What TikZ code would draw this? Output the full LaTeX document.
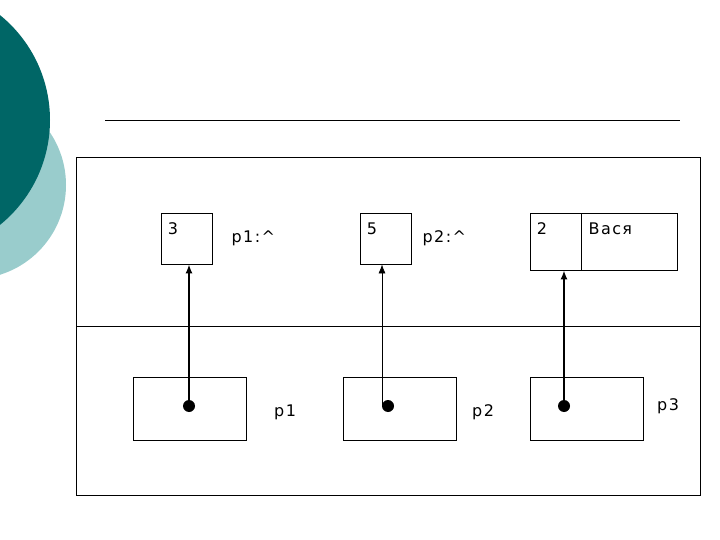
\documentclass[tikz,border=0pt]{standalone}
\usepackage{fontspec}
\setmainfont{DejaVu Sans}
\newfontfamily\lblfont[LetterSpace=9]{DejaVu Sans}
\usepackage{xcolor}
\usetikzlibrary{positioning,arrows.meta}
\definecolor{tealDark}{RGB}{0,102,102}
\definecolor{tealLight}{RGB}{153,204,204}

\begin{document}
\begin{tikzpicture}[
    x=1pt, y=-1pt,
    cell/.style={
      draw,
      minimum width=51pt,
      minimum height=51pt,
      inner sep=0pt,
      line width=0.8pt
    },
    ptrbox/.style={
      draw,
      minimum width=113pt,
      minimum height=63pt,
      inner sep=0pt,
      line width=0.8pt
    },
    dot/.style={circle, fill=black, minimum size=12pt, inner sep=0pt},
    val/.style={anchor=north west, inner sep=0pt, font=\lblfont\fontsize{16}{18}\selectfont},
    lbl/.style={anchor=west, inner sep=0pt, font=\lblfont\fontsize{16}{18}\selectfont},
    arrow/.style={-{Latex[length=9pt,width=7pt]}, line width=1.6pt},
    thinarrow/.style={-{Latex[length=9pt,width=7pt]}, line width=0.7pt}
  ]
    \useasboundingbox (0,0) rectangle (720,540);
    \clip (0,0) rectangle (720,540);

    % background circles
    \fill[tealLight] (-28,185) circle (94);
    \fill[tealDark] (-85,120) circle (135);

    \draw[line width=0.8pt] (105,120) -- (680,120);
    \draw[line width=0.8pt] (76,157) rectangle (700,495);
    \draw[line width=0.8pt] (76,326) -- (700,326);

    % heap cells
    \node[cell] (v1) at (186.5,238.5) {};
    \node[val] at ([xshift=7pt,yshift=-10pt]v1.north west) {3};
    \node[lbl, right=19pt of v1] (l1) {p1:\textasciicircum};

    \node[cell] (v2) at (385.5,238.5) {};
    \node[val] at ([xshift=7pt,yshift=-10pt]v2.north west) {5};
    \node[lbl, right=11pt of v2] (l2) {p2:\textasciicircum};

    \node[cell, minimum height=57pt] (v3) at (555.5,241.5) {};
    \node[cell, minimum width=96pt, minimum height=57pt, right=0pt of v3] (v3b) {};
    \node[val] at ([xshift=7pt,yshift=-10pt]v3.north west) {2};
    \node[val] at ([xshift=7pt,yshift=-10pt]v3b.north west) {Вася};

    % pointer variables
    \node[ptrbox] (w1) at (189.5,408.5) {};
    \node[dot] (d1) at (189,406) {};
    \node[lbl] (p1) at (274,412) {p1};

    \node[ptrbox] (w2) at (399.5,408.5) {};
    \node[dot] (d2) at (388,406) {};
    \node[lbl] (p2) at (472,412) {p2};

    \node[ptrbox] (w3) at (586.5,408.5) {};
    \node[dot] (d3) at (564,406) {};
    \node[lbl] (p3) at (657,406) {p3};

    \draw[arrow] (d1.center) -- (d1.center |- v1.south);
    \draw[thinarrow] ([xshift=-6pt]d2.center) -- ([xshift=-6pt]d2.center |- v2.south);
    \draw[arrow] (d3.center) -- (d3.center |- v3.south);
  \end{tikzpicture}
\end{document}
